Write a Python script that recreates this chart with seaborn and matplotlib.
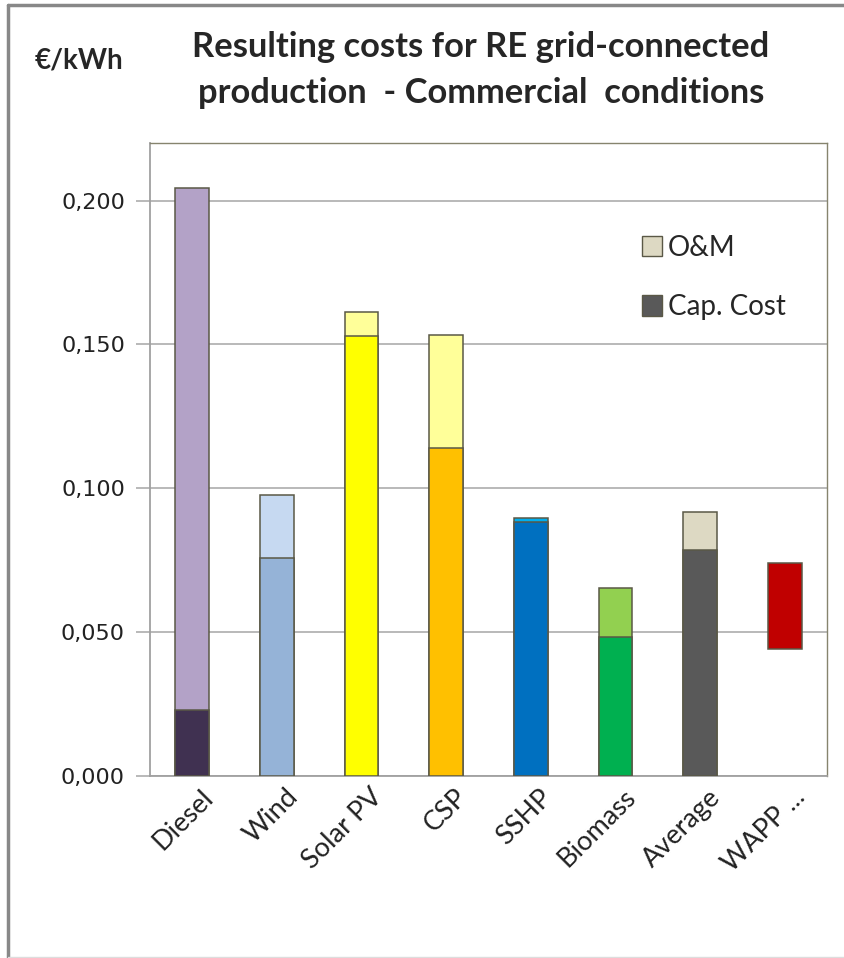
import matplotlib
matplotlib.use("Agg")
import matplotlib.pyplot as plt
import matplotlib.patches as mpatches
import matplotlib.transforms as mtransforms
from matplotlib.lines import Line2D
import pandas as pd
import seaborn as sns

# data (EUR/kWh)
categories = ["Diesel", "Wind", "Solar PV", "CSP", "SSHP", "Biomass", "Average", "WAPP ..."]
cap_cost = [0.0229, 0.0756, 0.1529, 0.1140, 0.0884, 0.0482, 0.0787, None]
total_cost = [0.2042, 0.0977, 0.1612, 0.1532, 0.0898, 0.0652, 0.0919, None]
wapp_low = 0.0440
wapp_high = 0.0742

cap_colors = ["#403151", "#95B3D7", "#FFFF00", "#FFC000", "#0070C0", "#00B050", "#595959", "#C00000"]
om_colors = ["#B3A2C7", "#C6D9F1", "#FFFF99", "#FFFF99", "#00B0F0", "#92D050", "#DDD9C3", "#C00000"]

y_ticks = [0.0, 0.05, 0.10, 0.15, 0.20]
y_ticklabels = ["0,000", "0,050", "0,100", "0,150", "0,200"]

df = pd.DataFrame({"tech": categories, "cap": cap_cost, "total": total_cost})

sns.set_style("white")
plt.rcParams["font.family"] = ["Lato", "DejaVu Sans"]

fig = plt.figure(figsize=(8.44, 9.58), dpi=100)
ax = fig.add_axes([150 / 844, 1 - 776 / 958, (827 - 150) / 844, (776 - 143) / 958])

edge = "#5A5846"
bw = 0.4

# O&M (drawn as total height), then capital cost on top of it
sns.barplot(data=df, x="tech", y="total", hue="tech", palette=om_colors, order=categories,
            hue_order=categories, width=bw, saturation=1, edgecolor=edge, linewidth=1.1,
            legend=False, ax=ax, zorder=3)
sns.barplot(data=df, x="tech", y="cap", hue="tech", palette=cap_colors, order=categories,
            hue_order=categories, width=bw, saturation=1, edgecolor=edge, linewidth=1.1,
            legend=False, ax=ax, zorder=4)

# WAPP tariff range (floating bar)
ax.bar([categories[-1]], [wapp_high - wapp_low], bottom=[wapp_low], width=bw,
       color="#C00000", edgecolor=edge, linewidth=1.1, zorder=4)

ax.set_xlim(-0.5, len(categories) - 0.5)
ax.set_ylim(0, 0.22)
ax.set_yticks(y_ticks)
ax.set_yticklabels(y_ticklabels, fontsize=16, color="#222222", family="DejaVu Sans")
ax.yaxis.grid(True, color="#A6A6A6", linewidth=1.1, zorder=0)
ax.xaxis.grid(False)
ax.set_axisbelow(True)

ax.set_xticks(range(len(categories)))
ax.set_xticklabels(categories, rotation=45, ha="right", rotation_mode="anchor",
                   fontsize=19.5, color="#222222")
ax.tick_params(axis="x", which="major", length=0, pad=6)
# nudge rotated labels a little to the right, like the original
shift = mtransforms.ScaledTranslation(8 / 100, 0, fig.dpi_scale_trans)
for lbl in ax.get_xticklabels():
    lbl.set_transform(lbl.get_transform() + shift)
ax.set_xticks([i - 0.5 for i in range(len(categories) + 1)], minor=True)
ax.tick_params(axis="x", which="minor", length=8, width=1.1, color="#A6A6A6", direction="out")
ax.tick_params(axis="y", length=10, width=1.1, color="#A6A6A6", direction="out", left=True, pad=8)
ax.set_xlabel("")
ax.set_ylabel("")

for s in ["left", "bottom"]:
    ax.spines[s].set_color("#A0A0A0")
    ax.spines[s].set_linewidth(1.3)
for s in ["top", "right"]:
    ax.spines[s].set_visible(True)
    ax.spines[s].set_color("#86846E")
    ax.spines[s].set_linewidth(1.0)

handles = [mpatches.Patch(facecolor="#DDD9C3", edgecolor=edge, label="O&M"),
           mpatches.Patch(facecolor="#595959", edgecolor=edge, label="Cap. Cost")]
ax.legend(handles=handles, loc="upper left", bbox_to_anchor=(0.726, 0.855), frameon=False,
          fontsize=20, handlelength=0.75, handleheight=0.75, handletextpad=0.2,
          labelspacing=1.2, borderaxespad=0, borderpad=0)

fig.text(481 / 844, 1 - 47 / 958, "Resulting costs for RE grid-connected",
         ha="center", va="center", fontsize=24.8, fontweight="bold")
fig.text(481 / 844, 1 - 93 / 958, "production  - Commercial  conditions",
         ha="center", va="center", fontsize=24.8, fontweight="bold")
fig.text(79 / 844, 1 - 61 / 958, "€/kWh", ha="center", va="center", fontsize=20,
         fontweight="bold")

# chart frame
fig.add_artist(Line2D([8 / 844, 8 / 844], [0, 1 - 5 / 958], transform=fig.transFigure,
                      color="#888888", linewidth=2.5))
fig.add_artist(Line2D([8 / 844, 1], [1 - 5 / 958, 1 - 5 / 958], transform=fig.transFigure,
                      color="#888888", linewidth=2.5))
fig.add_artist(Line2D([8 / 844, 1], [1.5 / 958, 1.5 / 958], transform=fig.transFigure,
                      color="#DDDDDD", linewidth=1))

fig.savefig("out.png", dpi=100, facecolor="white")
